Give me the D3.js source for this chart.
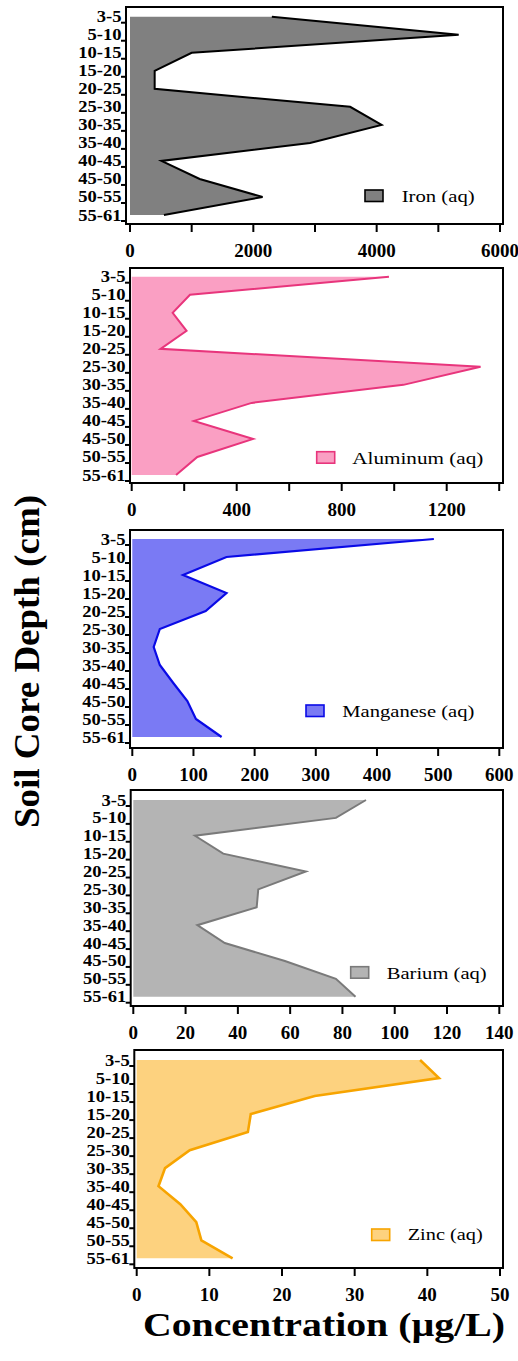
<!DOCTYPE html>
<html>
<head>
<meta charset="utf-8">
<script src="https://cdn.jsdelivr.net/npm/d3@7"></script>
<style>
  html, body { margin: 0; padding: 0; background: #fff; }
  svg { display: block; }
</style>
</head>
<body>
<svg id="chart" width="518" height="1361" font-family="'Liberation Serif', 'Times New Roman', Times, serif"></svg>
<script>
// Soil core depth intervals (cm)
const depths = ["3-5","5-10","10-15","15-20","20-25","25-30","30-35","35-40","40-45","45-50","50-55","55-61"];

// Dissolved concentrations (µg/L) per depth interval
const iron      = [2300, 5330, 1000, 400, 400, 3570, 4080, 2920, 510, 1130, 2150, 550];
const aluminum  = [980, 222, 156, 209, 110, 1329, 1035, 457, 237, 463, 250, 169];
const manganese = [493, 154, 83, 154, 120, 45, 35, 45, 67, 90, 104, 146];
const barium    = [89, 77.5, 23.6, 34.4, 66, 47.8, 47.2, 24.5, 35, 58, 77.5, 85];
const zinc      = [39, 41.6, 24.5, 15.7, 15.3, 7.3, 3.9, 3.0, 6.0, 8.2, 8.9, 13.2];

// Series names shown in the legends
const seriesNames = ["Iron (aq)", "Aluminum (aq)", "Manganese (aq)", "Barium (aq)", "Zinc (aq)"];

// Axis maxima, tick spacing and label spacing per panel
const axisMax   = [6000, 1400, 600, 140, 50];
const tickStep  = [1000, 200, 100, 20, 10];
const labelStep = [2000, 400, 100, 20, 10];

const seriesValues = [iron, aluminum, manganese, barium, zinc];

const SERIF = "'Liberation Serif', 'Times New Roman', Times, serif";

// Panel styling and placement
const styles = [
  { fill: "#808080", stroke: "#000000", sw: 2.0 },
  { fill: "#fa9fc3", stroke: "#e8357c", sw: 2.0 },
  { fill: "#7a7af4", stroke: "#0a0ae6", sw: 2.2 },
  { fill: "#b4b4b4", stroke: "#7a7a7a", sw: 2.0 },
  { fill: "#fdd27f", stroke: "#f7a400", sw: 2.6 }
];
const layout = [
  { L: 126,   T: 7,    R: 503, B: 224,  x0: 130,   x1: 500,   y0: 16.7, y1: 215,
    lg: { bx: 365,   by: 190,   tx: 401.7, ty: 201.5,  tw: 73 } },
  { L: 130,   T: 268,  R: 503, B: 483,  x0: 131.7, x1: 499.2, y0: 276.7, y1: 475,
    lg: { bx: 316.7, by: 451.7, tx: 352.3, ty: 463.5,  tw: 131 } },
  { L: 130,   T: 530,  R: 503, B: 748,  x0: 132.3, x1: 499.3, y0: 539,  y1: 737,
    lg: { bx: 306,   by: 705,   tx: 342.3, ty: 716.7,  tw: 132 } },
  { L: 130.7, T: 790,  R: 503, B: 1006, x0: 133.3, x1: 499.3, y0: 800,  y1: 996.7,
    lg: { bx: 350.7, by: 966.7, tx: 386.7, ty: 978.5,  tw: 100 } },
  { L: 134.3, T: 1050, R: 503, B: 1268, x0: 136.7, x1: 500,   y0: 1060, y1: 1258.3,
    lg: { bx: 371.7, by: 1229,  tx: 407.7, ty: 1240.3, tw: 75 } }
];

const svg = d3.select("#chart");

// depth labels are set compactly and widened to keep rows from colliding
function widen(sel, k) {
  sel.each(function () {
    const w = this.getComputedTextLength();
    d3.select(this).attr("textLength", w * k).attr("lengthAdjust", "spacingAndGlyphs");
  });
}

seriesValues.forEach((vals, i) => {
  const lay = layout[i], st = styles[i];
  const x = d3.scaleLinear().domain([0, axisMax[i]]).range([lay.x0, lay.x1]);
  const y = d3.scalePoint().domain(depths).range([lay.y0, lay.y1]);
  const g = svg.append("g");

  const rows = depths.map((d, j) => ({ d, v: vals[j] }));

  // filled profile from zero to the concentration
  const area = d3.area()
    .y(r => y(r.d))
    .x0(() => x(0))
    .x1(r => x(r.v));
  g.append("path").datum(rows)
    .attr("d", area)
    .attr("fill", st.fill)
    .attr("stroke", "none");

  // concentration outline
  const line = d3.line().x(r => x(r.v)).y(r => y(r.d));
  g.append("path").datum(rows)
    .attr("d", line)
    .attr("fill", "none")
    .attr("stroke", st.stroke)
    .attr("stroke-width", st.sw)
    .attr("stroke-linejoin", "miter");

  // frame
  g.append("rect")
    .attr("x", lay.L).attr("y", lay.T)
    .attr("width", lay.R - lay.L).attr("height", lay.B - lay.T)
    .attr("fill", "none").attr("stroke", "#000").attr("stroke-width", 2);

  // bottom axis ticks and labels
  const ticks = d3.range(0, axisMax[i] + 1e-9, tickStep[i]);
  g.selectAll("line.xt").data(ticks).join("line")
    .attr("x1", d => x(d)).attr("x2", d => x(d))
    .attr("y1", lay.B).attr("y2", lay.B + 8)
    .attr("stroke", "#000").attr("stroke-width", 2);
  const labels = ticks.filter(t => Math.abs(t / labelStep[i] - Math.round(t / labelStep[i])) < 1e-9);
  g.selectAll("text.xl").data(labels).join("text")
    .attr("x", d => x(d)).attr("y", lay.B + 33)
    .attr("text-anchor", "middle")
    .attr("font-family", SERIF)
    .attr("font-size", 19).attr("font-weight", "bold")
    .text(d => d);

  // left axis ticks and depth labels
  g.selectAll("line.yt").data(depths).join("line")
    .attr("x1", lay.L - 5).attr("x2", lay.L)
    .attr("y1", d => y(d) + 6).attr("y2", d => y(d) + 6)
    .attr("stroke", "#000").attr("stroke-width", 2);
  const yl = g.selectAll("text.yl").data(depths).join("text")
    .attr("x", lay.L - 4.5).attr("y", d => y(d) + 5.5)
    .attr("text-anchor", "end")
    .attr("font-family", SERIF)
    .attr("font-size", 16).attr("font-weight", "bold")
    .text(d => d);
  widen(yl, 1.16);

  // legend
  g.append("rect")
    .attr("x", lay.lg.bx).attr("y", lay.lg.by)
    .attr("width", 18).attr("height", 11.5)
    .attr("fill", st.fill).attr("stroke", st.stroke).attr("stroke-width", 1.6);
  g.append("text")
    .attr("x", lay.lg.tx).attr("y", lay.lg.ty)
    .attr("font-family", SERIF)
    .attr("font-size", 17)
    .attr("textLength", lay.lg.tw).attr("lengthAdjust", "spacingAndGlyphs")
    .text(seriesNames[i]);
});

// shared axis titles
svg.append("text")
  .attr("transform", "translate(39,661.5) rotate(-90)")
  .attr("text-anchor", "middle")
  .attr("font-family", SERIF)
  .attr("font-size", 36).attr("font-weight", "bold")
  .attr("textLength", 333).attr("lengthAdjust", "spacingAndGlyphs")
  .text("Soil Core Depth (cm)");

svg.append("text")
  .attr("x", 143).attr("y", 1336)
  .attr("font-family", SERIF)
  .attr("font-size", 34).attr("font-weight", "bold")
  .attr("textLength", 362).attr("lengthAdjust", "spacingAndGlyphs")
  .text("Concentration (µg/L)");
</script>
</body>
</html>
